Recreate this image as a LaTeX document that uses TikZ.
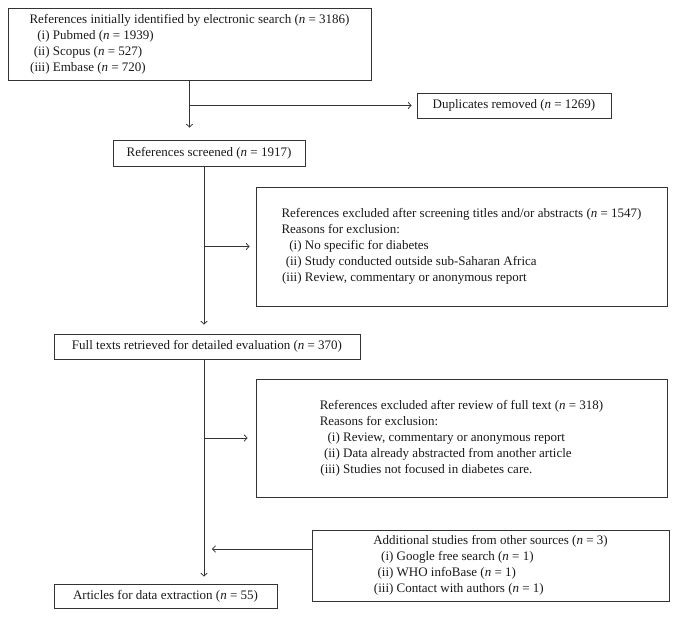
\documentclass[tikz,border=0pt]{standalone}
\usepackage{fontspec}
\setmainfont{Liberation Serif}
\usetikzlibrary{arrows.meta}

\newcommand{\nval}[1]{(\textit{n} = #1)}
\newcommand{\li}[1]{\makebox[1.55em][r]{#1}\ }

\begin{document}
\begin{tikzpicture}
    [x=1pt, y=-1pt, >={Straight Barb[length=3pt,width=6.5pt]}, shorten >=7pt,
     every edge/.append style={draw=black!80, line width=0.75pt},
     box/.style={shape=rectangle, draw=black!80, line width=0.85pt, align=left, inner sep=0pt,
                 text=black!90, font=\fontsize{13}{16}\selectfont}]
    \useasboundingbox (0,0) rectangle (678,617);

    \node[box, minimum width=363pt, minimum height=72pt] (search) at (189.5, 44)
        {References initially identified by electronic search \nval{3186}\\
         \li{(i)}Pubmed \nval{1939}\\
         \li{(ii)}Scopus \nval{527}\\
         \li{(iii)}Embase \nval{720}};
    \node[box, minimum width=194pt, minimum height=25pt] (dup) at (514, 105.5) {Duplicates removed \nval{1269}};
    \node[box, minimum width=192pt, minimum height=26pt] (screened) at (209, 153) {References screened \nval{1917}};
    \node[box, minimum width=411pt, minimum height=119pt] (excl1) at (461.5, 246.5)
        {References excluded after screening titles and/or abstracts \nval{1547}\\
         Reasons for exclusion:\\
         \li{(i)}No specific for diabetes\\
         \li{(ii)}Study conducted outside sub-Saharan Africa\\
         \li{(iii)}Review, commentary or anonymous report};
    \node[box, minimum width=306pt, minimum height=25pt] (full) at (207, 346.5) {Full texts retrieved for detailed evaluation \nval{370}};
    \node[box, minimum width=411pt, minimum height=118pt] (excl2) at (461.5, 438)
        {References excluded after review of full text \nval{318}\\
         Reasons for exclusion:\\
         \li{(i)}Review, commentary or anonymous report\\
         \li{(ii)}Data already abstracted from another article\\
         \li{(iii)}Studies not focused in diabetes care.};
    \node[box, minimum width=357pt, minimum height=71pt] (add) at (490.5, 565.5)
        {Additional studies from other sources \nval{3}\\
         \li{(i)}Google free search \nval{1}\\
         \li{(ii)}WHO infoBase \nval{1}\\
         \li{(iii)}Contact with authors \nval{1}};
    \node[box, minimum width=223pt, minimum height=24pt] (articles) at (165.5, 596) {Articles for data extraction \nval{55}};

    \coordinate (fork) at (search.south |- dup.west);
    \coordinate (spine) at (204, 0);
    \coordinate[yshift=16.5pt] (addout) at (add.west);

    \path [->] (search.south) edge [shorten >=12pt] (search.south |- screened.north);
    \path [->] (fork) edge [shorten >=5pt] (dup.west);
    \path [->] (spine |- screened.south) edge [shorten >=9pt] (spine |- full.north);
    \path [->] (spine |- excl1.west) edge [shorten >=6pt] (excl1.west);
    \path [->] (spine |- full.south) edge (spine |- articles.north);
    \path [->] (spine |- excl2.west) edge [shorten >=8pt] (excl2.west);
    \path [->] (addout) edge [shorten >=8pt] (spine |- addout);
\end{tikzpicture}
\end{document}
